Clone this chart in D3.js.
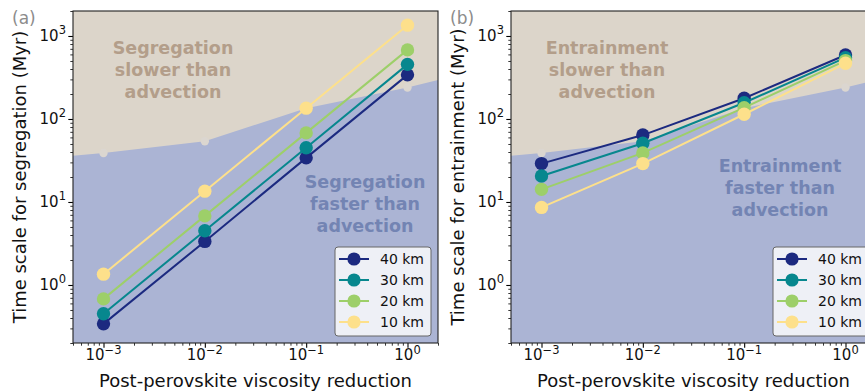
<!DOCTYPE html>
<html>
<head>
<meta charset="utf-8">
<script src="https://cdn.jsdelivr.net/npm/d3@7"></script>
<style>
  body { margin: 0; background: #fff; }
  svg { font-family: "DejaVu Sans", sans-serif; display: block; }
</style>
</head>
<body>
<svg id="chart" width="865" height="392"></svg>
<script>
// viscosity reduction (x) and layer thicknesses
const viscosity = [1e-3, 1e-2, 1e-1, 1];
const thickness = ["40 km", "30 km", "20 km", "10 km"];
const lineColors = ["#1c2a80", "#07878e", "#9dcf69", "#fde08b"];

// segregation time scale (Myr)
const seg40 = [0.34, 3.35, 34, 340];
const seg30 = [0.45, 4.5, 45, 455];
const seg20 = [0.68, 6.8, 68, 680];
const seg10 = [1.35, 13.5, 135, 1350];

// entrainment time scale (Myr)
const ent40 = [29, 64, 178, 590];
const ent30 = [20.6, 51, 157, 548];
const ent20 = [14.2, 39, 137, 505];
const ent10 = [8.6, 29, 114, 469];

// advection time scale boundary (extended to the axis edges)
const advX = [5e-4, 1e-3, 1e-2, 1e-1, 1, 2];
const advT = [36, 39, 54, 135, 240, 295];

const xTicks = [1e-3, 1e-2, 1e-1, 1];
const xTickExp = ["\u22123", "\u22122", "\u22121", "0"];
const yTicks = [1, 10, 100, 1000];
const yTickExp = ["0", "1", "2", "3"];

const W = 365, H = 332;
const svg = d3.select("#chart");

const x = d3.scaleLog().domain([5e-4, 2]).range([0, W]);
const y = d3.scaleLog().domain([0.2, 2000]).range([H, 0]);

function drawPanel(left, label, series, ylab, slowTxt, fastTxt) {
  const g = svg.append("g").attr("transform", `translate(${left},11)`);

  // background regions
  g.append("rect").attr("width", W).attr("height", H).attr("fill", "#dcd5ca");
  const area = d3.area()
    .x((d, i) => x(advX[i]))
    .y0(H)
    .y1(d => y(d));
  g.append("path").datum(advT).attr("d", area).attr("fill", "#abb4d4");

  g.selectAll(".adv").data(advT.slice(1, 5)).enter().append("circle")
    .attr("cx", (d, i) => x(advX[i + 1])).attr("cy", d => y(d))
    .attr("r", 4.2).attr("fill", "#dbd6d0");

  // annotations
  const slow = g.append("text").attr("text-anchor", "middle")
    .attr("font-weight", "bold").attr("font-size", 17.5).attr("fill", "#b39e8a");
  slowTxt.t.forEach((t, i) => slow.append("tspan").attr("x", slowTxt.x).attr("y", slowTxt.y + i * 22).text(t));
  const fast = g.append("text").attr("text-anchor", "middle")
    .attr("font-weight", "bold").attr("font-size", 17.5).attr("fill", "#7384b3");
  fastTxt.t.forEach((t, i) => fast.append("tspan").attr("x", fastTxt.x).attr("y", fastTxt.y + i * 22).text(t));

  // series
  const line = d3.line().x((d, i) => x(viscosity[i])).y(d => y(d));
  series.forEach((s, k) => {
    g.append("path").datum(s).attr("d", line)
      .attr("fill", "none").attr("stroke", lineColors[k]).attr("stroke-width", 2);
    g.selectAll(null).data(s).enter().append("circle")
      .attr("cx", (d, i) => x(viscosity[i])).attr("cy", d => y(d))
      .attr("r", 6.7).attr("fill", lineColors[k]);
  });

  // axes
  const xMinor = x.ticks().filter(v => !xTicks.includes(v));
  const yMinor = y.ticks().filter(v => !yTicks.includes(v));
  g.append("g").attr("transform", `translate(0,${H})`)
    .call(d3.axisBottom(x).tickValues(xMinor).tickSize(2.7).tickFormat(""))
    .call(a => a.select(".domain").remove())
    .selectAll("line").attr("stroke-width", 0.8);
  g.append("g").attr("transform", `translate(0,${H})`)
    .call(d3.axisBottom(x).tickValues(xTicks).tickSize(4.7).tickFormat(""))
    .call(a => a.select(".domain").remove())
    .selectAll("line").attr("stroke-width", 1.1);
  g.append("g")
    .call(d3.axisLeft(y).tickValues(yMinor).tickSize(2.7).tickFormat(""))
    .call(a => a.select(".domain").remove())
    .selectAll("line").attr("stroke-width", 0.8);
  g.append("g")
    .call(d3.axisLeft(y).tickValues(yTicks).tickSize(4.7).tickFormat(""))
    .call(a => a.select(".domain").remove())
    .selectAll("line").attr("stroke-width", 1.1);

  xTicks.forEach((v, i) => {
    const t = g.append("text").attr("x", x(v)).attr("y", H + 17)
      .attr("text-anchor", "middle").attr("font-size", 15).attr("fill", "#111");
    t.append("tspan").text("10");
    t.append("tspan").attr("dy", -6.5).attr("font-size", 11.5).text(xTickExp[i]);
  });
  yTicks.forEach((v, i) => {
    const t = g.append("text").attr("x", -7).attr("y", y(v) + 5)
      .attr("text-anchor", "end").attr("font-size", 15).attr("fill", "#111");
    t.append("tspan").text("10");
    t.append("tspan").attr("dy", -6.5).attr("font-size", 11.5).text(yTickExp[i]);
  });

  g.append("rect").attr("width", W).attr("height", H)
    .attr("fill", "none").attr("stroke", "#222").attr("stroke-width", 1.1);

  // axis labels
  g.append("text").attr("x", W / 2).attr("y", H + 44).attr("text-anchor", "middle")
    .attr("font-size", 18).attr("fill", "#111").text("Post-perovskite viscosity reduction");
  g.append("text").attr("transform", `translate(-47,${H / 2}) rotate(-90)`)
    .attr("text-anchor", "middle").attr("font-size", 18).attr("fill", "#111").text(ylab);

  g.append("text").attr("x", -61).attr("y", 13).attr("font-size", 17)
    .attr("fill", "#8c8c8c").text(label);

  // legend
  const lg = g.append("g").attr("transform", `translate(${W - 103},236)`);
  lg.append("rect").attr("width", 96).attr("height", 89).attr("rx", 3)
    .attr("fill", "#eef0f6").attr("stroke", "#666").attr("stroke-width", 1);
  thickness.forEach((name, k) => {
    const yy = 12 + k * 21;
    lg.append("line").attr("x1", 4).attr("x2", 34).attr("y1", yy).attr("y2", yy)
      .attr("stroke", lineColors[k]).attr("stroke-width", 2);
    lg.append("circle").attr("cx", 19).attr("cy", yy).attr("r", 6.6).attr("fill", lineColors[k]);
    lg.append("text").attr("x", 45).attr("y", yy + 5).attr("font-size", 14)
      .attr("fill", "#111").text(name);
  });
}

drawPanel(73, "(a)", [seg40, seg30, seg20, seg10], "Time scale for segregation (Myr)",
  { x: 100, y: 43, t: ["Segregation", "slower than", "advection"] },
  { x: 292, y: 177, t: ["Segregation", "faster than", "advection"] });

drawPanel(511, "(b)", [ent40, ent30, ent20, ent10], "Time scale for entrainment (Myr)",
  { x: 96, y: 43, t: ["Entrainment", "slower than", "advection"] },
  { x: 269, y: 161, t: ["Entrainment", "faster than", "advection"] });
</script>
</body>
</html>
